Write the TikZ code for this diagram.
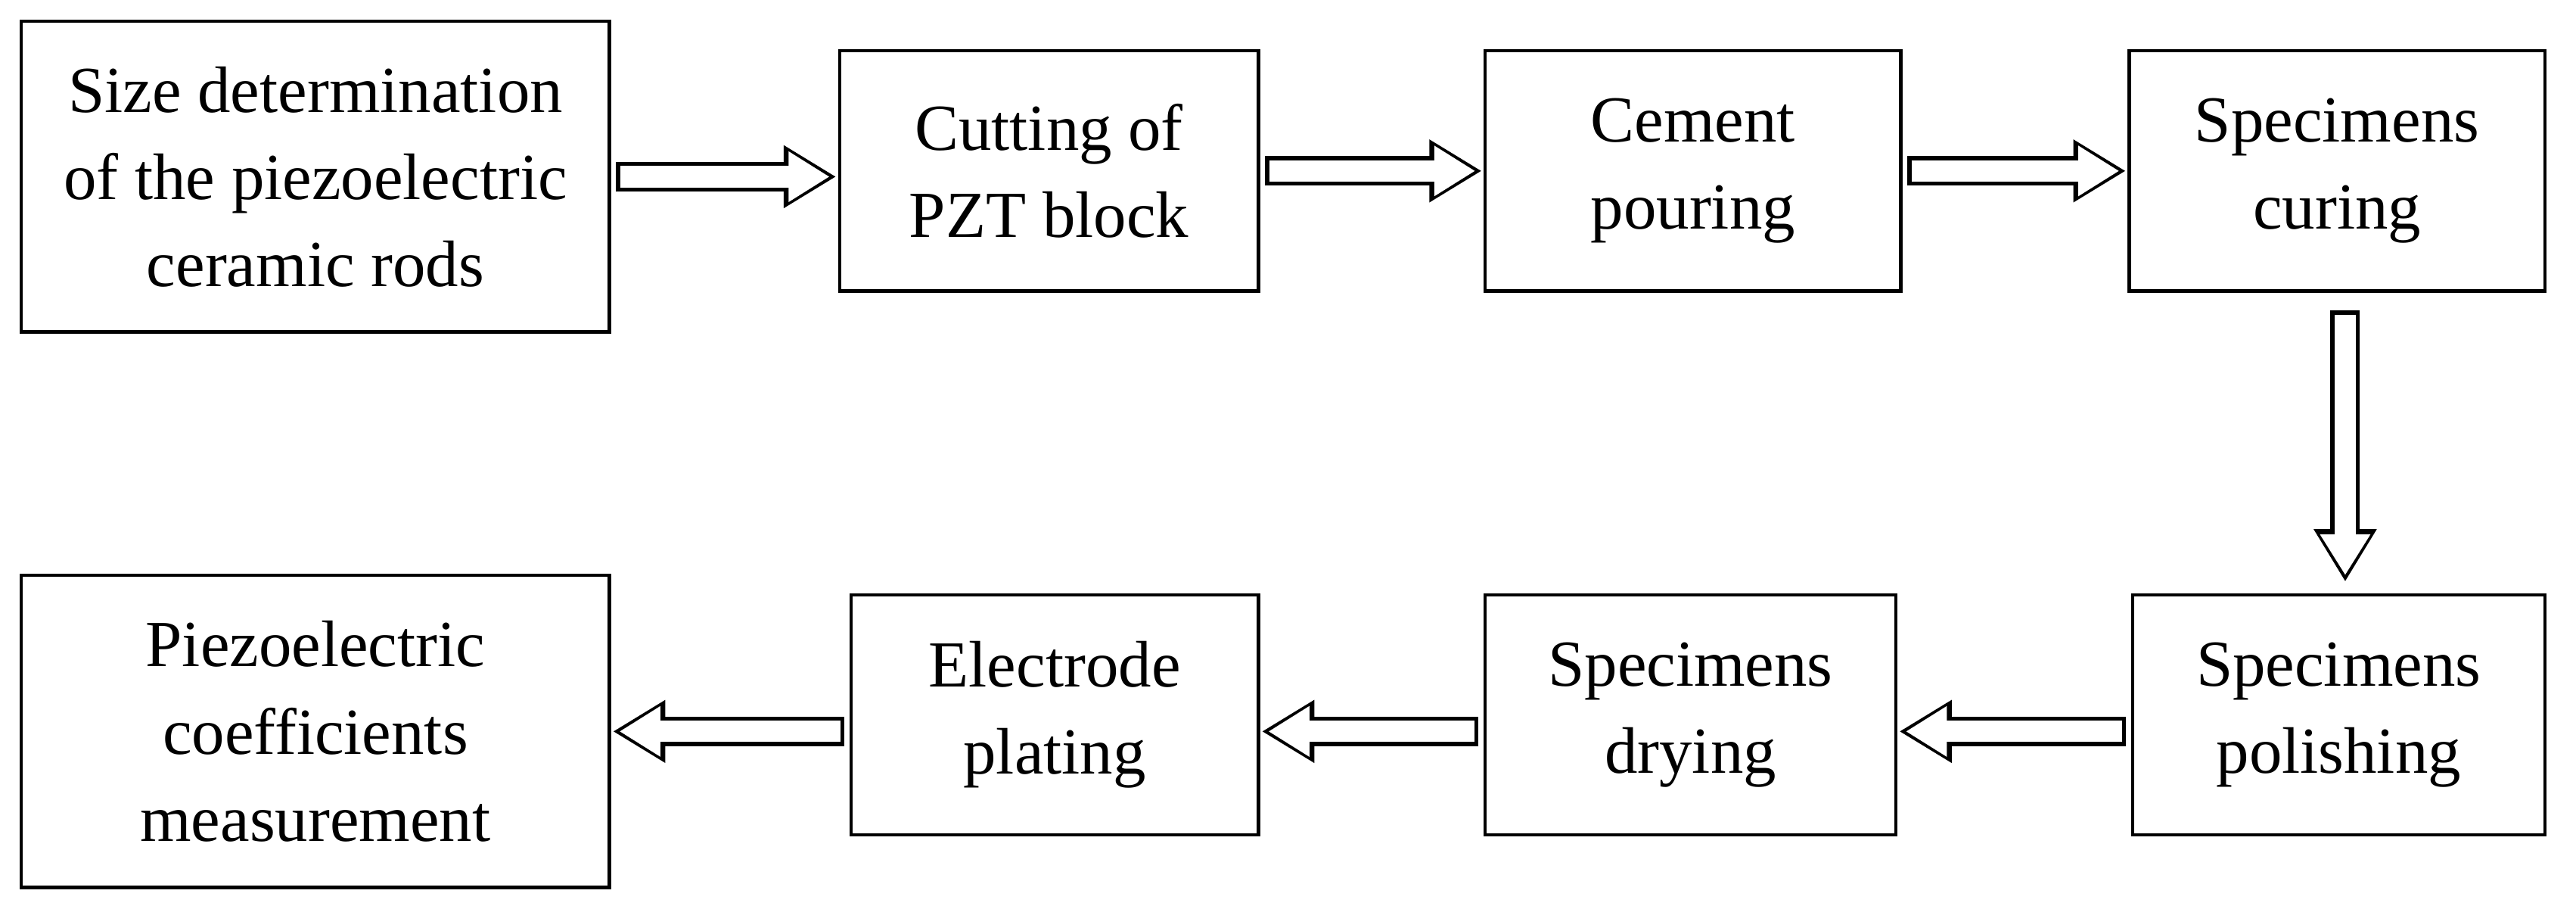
\documentclass[tikz,border=0pt]{standalone}
\usepackage{fontspec}
\setmainfont{Liberation Serif}
\usetikzlibrary{arrows.meta}
\tikzset{
  box/.style={draw, line width=2pt, align=center, minimum height=146pt,
    inner sep=0pt, font=\fontsize{40}{53}\selectfont},
  hollowout/.style={line width=18pt, shorten <=3pt, shorten >=1pt,
    -{Triangle[length=32pt,width=36pt]}},
  hollowin/.style={white, line width=13pt, shorten <=5.5pt, shorten >=5pt,
    -{Triangle[length=25pt,width=29pt]}}
}
\newcommand{\hollowarrow}[2]{%
  \draw[hollowout] #1 -- #2;
  \draw[hollowin] #1 -- #2;}
\begin{document}
\begin{tikzpicture}[x=1pt,y=1pt]
  \useasboundingbox (0,0) rectangle (1568,-551);
  \node[box, minimum width=358pt, minimum height=189pt] (b1) at (192,-107.5)
    {Size determination\\of the piezoelectric\\ceramic rods};
  \node[box, minimum width=255pt] (b2) at (638.5,-104) {Cutting of\\PZT block};
  \node[box, minimum width=253pt] (b3) at (1030.5,-104) {Cement\\pouring};
  \node[box, minimum width=253pt] (b4) at (1422.5,-104) {Specimens\\curing};
  \node[box, minimum width=251pt] (b5) at (1423.5,-435) {Specimens\\polishing};
  \node[box, minimum width=250pt] (b6) at (1029,-435) {Specimens\\drying};
  \node[box, minimum width=248pt] (b7) at (642,-435) {Electrode\\plating};
  \node[box, minimum width=358pt, minimum height=190pt] (b8) at (192,-445)
    {Piezoelectric\\coefficients\\measurement};
  \hollowarrow{(b1.east)}{(b1.east -| b2.west)}
  \hollowarrow{(b2.east)}{(b3.west)}
  \hollowarrow{(b3.east)}{(b4.west)}
  \hollowarrow{([xshift=5pt,yshift=-8pt]b4.south)}{([xshift=4pt,yshift=6pt]b5.north)}
  \hollowarrow{([yshift=-10pt]b5.west)}{([yshift=-10pt]b6.east)}
  \hollowarrow{([yshift=-10pt]b6.west)}{([yshift=-10pt]b7.east)}
  \hollowarrow{([yshift=-10pt]b7.west)}{([yshift=-10pt]b7.west -| b8.east)}
\end{tikzpicture}
\end{document}
